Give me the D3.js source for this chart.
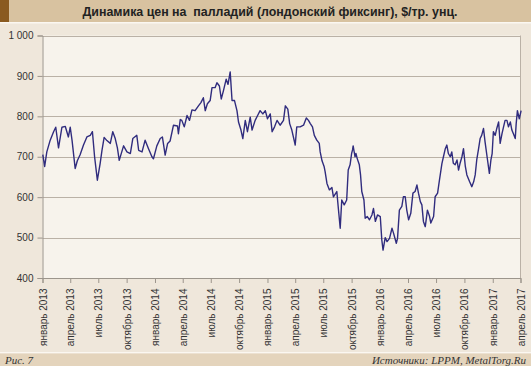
<!DOCTYPE html>
<html><head><meta charset="utf-8">
<script src="https://cdn.jsdelivr.net/npm/d3@7"></script>
<style>
html,body{margin:0;padding:0;background:#efe7db;}
svg{display:block;}
</style></head>
<body>
<svg id="c" width="531" height="366"></svg>
<script>
const title = "Динамика цен на  палладий (лондонский фиксинг), $/тр. унц.";
const figLabel = "Рис. 7";
const source = "Источники: LPPM, MetalTorg.Ru";
const yTicks = [400, 500, 600, 700, 800, 900, 1000];
const xTickDates = ["2013-01-01","2013-04-01","2013-07-01","2013-10-01","2014-01-01","2014-04-01","2014-07-01","2014-10-01","2015-01-01","2015-04-01","2015-07-01","2015-10-01","2016-01-01","2016-04-01","2016-07-01","2016-10-01","2017-01-01","2017-04-01"];
const monthNames = ["январь","февраль","март","апрель","май","июнь","июль","август","сентябрь","октябрь","ноябрь","декабрь"];
const dates = [
"2013-01-02","2013-01-08","2013-01-15","2013-01-26","2013-02-06","2013-02-13","2013-02-22","2013-03-05","2013-03-16","2013-03-26",
"2013-04-01","2013-04-07","2013-04-17","2013-04-24","2013-05-03","2013-05-14","2013-05-25","2013-06-05","2013-06-12","2013-06-19",
"2013-06-28","2013-07-07","2013-07-13","2013-07-20","2013-07-29","2013-08-09","2013-08-17","2013-08-25","2013-09-01","2013-09-07",
"2013-09-21","2013-10-02","2013-10-13","2013-10-21","2013-11-03","2013-11-09","2013-11-20","2013-11-30","2013-12-11","2013-12-22",
"2013-12-27","2014-01-07","2014-01-18","2014-01-25","2014-02-03","2014-02-11","2014-02-19","2014-03-02","2014-03-15","2014-03-18",
"2014-03-24","2014-03-29","2014-04-06","2014-04-15","2014-04-23","2014-05-01","2014-05-11","2014-05-22","2014-05-30","2014-06-07",
"2014-06-13","2014-06-20","2014-06-29","2014-07-05","2014-07-15","2014-07-21","2014-07-29","2014-08-04","2014-08-11","2014-08-20",
"2014-08-26","2014-09-02","2014-09-08","2014-09-16","2014-09-24","2014-09-29","2014-10-07","2014-10-13","2014-10-21","2014-10-28",
"2014-11-06","2014-11-12","2014-11-22","2014-11-30","2014-12-08","2014-12-17","2014-12-25","2015-01-01","2015-01-10","2015-01-16",
"2015-01-24","2015-02-01","2015-02-11","2015-02-22","2015-02-28","2015-03-08","2015-03-14","2015-03-21","2015-03-26","2015-04-01",
"2015-04-06","2015-04-17","2015-04-28","2015-05-07","2015-05-14","2015-05-20","2015-05-27","2015-06-02","2015-06-10","2015-06-18",
"2015-06-21","2015-06-27","2015-07-04","2015-07-07","2015-07-13","2015-07-21","2015-07-29","2015-08-03","2015-08-14","2015-08-19",
"2015-08-25","2015-08-30","2015-09-07","2015-09-15","2015-09-20","2015-09-26","2015-10-01","2015-10-04","2015-10-06","2015-10-12",
"2015-10-15","2015-10-19","2015-10-26","2015-10-30","2015-11-03","2015-11-10","2015-11-14","2015-11-21","2015-11-28","2015-12-06",
"2015-12-11","2015-12-17","2015-12-24","2016-01-02","2016-01-07","2016-01-11","2016-01-18","2016-01-24","2016-02-01","2016-02-09",
"2016-02-14","2016-02-23","2016-02-27","2016-03-04","2016-03-12","2016-03-17","2016-03-23","2016-03-28","2016-04-03","2016-04-10",
"2016-04-17","2016-04-24","2016-04-30","2016-05-05","2016-05-11","2016-05-16","2016-05-21","2016-05-27","2016-06-03","2016-06-10",
"2016-06-14","2016-06-23","2016-06-28","2016-07-06","2016-07-12","2016-07-20","2016-07-25","2016-07-31","2016-08-05","2016-08-10",
"2016-08-16","2016-08-21","2016-08-26","2016-09-01","2016-09-07","2016-09-12","2016-09-17","2016-09-23","2016-09-28","2016-10-04",
"2016-10-09","2016-10-18","2016-10-25","2016-10-31","2016-11-05","2016-11-10","2016-11-16","2016-11-21","2016-11-26","2016-12-02",
"2016-12-07","2016-12-15","2016-12-21","2016-12-26","2016-12-30","2017-01-03","2017-01-09","2017-01-14","2017-01-20","2017-01-25",
"2017-01-31","2017-02-05","2017-02-10","2017-02-16","2017-02-21","2017-02-27","2017-03-04","2017-03-09","2017-03-15","2017-03-18",
"2017-03-22","2017-03-28","2017-04-03"];
const prices = [
705,676,712,741,762,773,722,773,775,749,
773,740,671,690,705,729,749,753,762,700,
642,683,716,748,740,733,762,745,722,691,
727,712,708,745,753,716,712,741,720,700,
695,727,745,749,704,733,739,778,776,757,
792,790,774,802,790,816,814,826,834,846,
814,831,839,871,871,883,875,843,863,892,
879,910,839,839,814,786,766,745,790,762,
798,766,790,802,814,806,814,794,806,762,
774,790,778,790,826,818,782,766,749,729,
774,774,778,796,790,782,774,753,741,733,
712,690,675,663,634,618,624,601,614,572,
523,593,581,593,667,680,708,717,727,700,
708,696,680,655,614,593,548,552,544,556,
572,540,556,552,494,469,500,490,498,523,
511,486,498,568,577,601,601,568,544,560,
610,614,630,610,589,581,540,527,568,552,
536,552,601,610,642,683,700,720,729,708,
700,712,684,680,692,667,684,700,720,676,
655,638,626,638,655,692,720,745,753,770,
737,692,659,692,708,762,753,770,786,733,
757,774,790,790,774,786,766,757,745,782,
814,794,814];

const parse = d3.timeParse("%Y-%m-%d");
const data = dates.map((d,i)=>({date:parse(d), v:prices[i]}));

const svg = d3.select("#c");
const W = 531, H = 366;
const m = {l:42.5, r:520.5, t:35.5, b:278};

// background
svg.append("rect").attr("width",W).attr("height",H).attr("fill","#efe7db");
// title band
svg.append("rect").attr("x",0).attr("y",0).attr("width",W).attr("height",22).attr("fill","#d8c2a0");
svg.append("rect").attr("x",0).attr("y",0).attr("width",9).attr("height",22).attr("fill","#8a5a20");
svg.append("rect").attr("x",0).attr("y",22).attr("width",W).attr("height",1.5).attr("fill","#fbf7f1");
svg.append("text").attr("x",270).attr("y",16).attr("text-anchor","middle")
  .style("white-space","pre")
  .attr("font-family","Liberation Sans, Arial, sans-serif").attr("font-weight","bold")
  .attr("font-size","12.4px").attr("fill","#222").text(title);

// footer band
svg.append("rect").attr("x",0).attr("y",352).attr("width",W).attr("height",1.5).attr("fill","#fbf7f1");
svg.append("rect").attr("x",0).attr("y",353.5).attr("width",W).attr("height",H-353.5).attr("fill","#e4d4bc");
svg.append("text").attr("x",5).attr("y",363.5)
  .attr("font-family","Liberation Serif, Times New Roman, serif").attr("font-style","italic")
  .attr("font-size","11px").attr("fill","#333").text(figLabel);
svg.append("text").attr("x",526).attr("y",363.5).attr("text-anchor","end")
  .attr("font-family","Liberation Serif, Times New Roman, serif").attr("font-style","italic")
  .attr("font-size","11px").attr("fill","#333").text(source);

const x = d3.scaleTime().domain([parse("2013-01-01"), parse("2017-04-01")]).range([m.l, m.r]);
const y = d3.scaleLinear().domain([400,1000]).range([m.b, m.t]);

// plot area
svg.append("rect").attr("x",m.l).attr("y",m.t).attr("width",m.r-m.l).attr("height",m.b-m.t).attr("fill","#f7f3ec");

// gridlines
svg.append("g").selectAll("line").data(yTicks.filter(t=>t>400)).join("line")
  .attr("x1",m.l).attr("x2",m.r).attr("y1",d=>Math.round(y(d))+0.5).attr("y2",d=>Math.round(y(d))+0.5)
  .attr("stroke","#bab1a6").attr("stroke-width",1);
// right border
svg.append("line").attr("x1",m.r).attr("x2",m.r).attr("y1",m.t).attr("y2",m.b).attr("stroke","#bab1a6");

// y axis
const yAxis = d3.axisLeft(y).tickValues(yTicks).tickSize(5).tickPadding(4)
  .tickFormat(d=> d>=1000 ? d3.format(",")(d).replace(",", " ") : d);
const gy = svg.append("g").attr("transform",`translate(${m.l},0)`).call(yAxis);
gy.select(".domain").attr("stroke","#9c958c");
gy.selectAll(".tick line").attr("stroke","#9c958c");
gy.selectAll("text").attr("font-family","Liberation Sans, Arial, sans-serif").attr("font-size","10px").attr("fill","#333");

// x axis
const xAxis = d3.axisBottom(x).tickValues(xTickDates.map(parse)).tickSize(5).tickPadding(4)
  .tickFormat(d=> monthNames[d.getMonth()] + " " + d.getFullYear());
const gx = svg.append("g").attr("transform",`translate(0,${m.b})`).call(xAxis);
gx.select(".domain").attr("stroke","#9c958c");
gx.selectAll(".tick line").attr("stroke","#9c958c");
gx.selectAll("text").attr("font-family","Liberation Sans, Arial, sans-serif").attr("font-size","10px").attr("fill","#333")
  .attr("text-anchor","end").attr("transform","rotate(-90)").attr("x",-10.5).attr("y",0).attr("dy","0.35em");

// line
const line = d3.line().x(d=>x(d.date)).y(d=>y(d.v));
svg.append("path").datum(data).attr("d",line).attr("fill","none")
  .attr("stroke","#302c7e").attr("stroke-width",1.4).attr("stroke-linejoin","round");
</script>
</body></html>
